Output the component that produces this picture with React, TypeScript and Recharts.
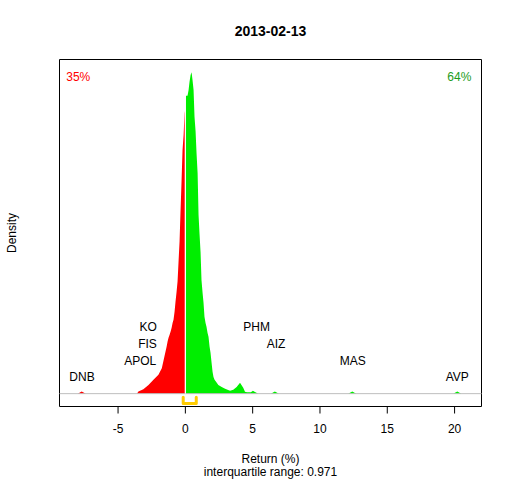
import React from 'react';
import { ComposedChart, Area, XAxis, YAxis, Scatter, ReferenceLine, ReferenceArea } from 'recharts';

// Return (%) and density (scaled so the peak is 100) for the negative part
const redReturns = [-8.0, -7.7, -7.4, -3.6, -3.49, -3.12, -2.74, -2.37, -2.0, -1.75, -1.56, -1.39, -1.32, -1.25, -1.17, -1.1, -1.02, -0.95, -0.88, -0.8, -0.73, -0.65, -0.58, -0.5, -0.43, -0.36, -0.28, -0.21, -0.13, -0.06, -0.04];
const redDensity = [0, 0.7, 0, 0, 0.65, 1.4, 2.7, 4.3, 5.9, 7.9, 11.5, 14.7, 16.2, 17.4, 18.3, 19.3, 20.5, 22.0, 23.0, 25.6, 28.7, 31.8, 34.9, 41.6, 47.4, 56.7, 66.5, 75.8, 80.6, 87.3, 88.0];

// positive part
const greenReturns = [0.04, 0.16, 0.24, 0.31, 0.39, 0.46, 0.53, 0.61, 0.68, 0.76, 0.83, 0.91, 0.98, 1.05, 1.13, 1.2, 1.28, 1.35, 1.42, 1.5, 1.57, 1.65, 1.72, 1.8, 1.87, 1.94, 2.02, 2.09, 2.17, 2.28, 2.45, 2.7, 2.95, 3.32, 3.56, 3.81, 4.06, 4.3, 4.43, 4.58, 4.87, 5.02, 5.17, 5.32, 5.4, 6.35, 6.65, 6.95, 12.1, 12.4, 12.7, 19.9, 20.2, 20.5];
const greenDensity = [92.7, 92.7, 94.5, 97.1, 99.2, 100, 97.7, 94.5, 86.2, 81.6, 74.9, 68.7, 55.6, 49.9, 44.0, 35.3, 31.3, 28.3, 23.9, 22.0, 20.8, 18.9, 17.7, 14.6, 12.7, 9.9, 6.8, 5.2, 4.3, 3.7, 2.7, 2.1, 1.5, 0.9, 1.2, 2.1, 3.4, 1.8, 0.6, 0.4, 0.4, 0.9, 0.5, 0.2, 0, 0, 0.7, 0, 0, 0.7, 0, 0, 0.7, 0];

const xTicks = [-5, 0, 5, 10, 15, 20];
const xDomain = [-9.35, 22.0];
const yDomain = [-4, 104];

// interquartile range bracket
const q1 = -0.16;
const q3 = 0.81;
const iqrLabel = 'interquartile range: 0.971';

// stock labels
const labelNames = ['KO', 'FIS', 'APOL', 'DNB', 'PHM', 'AIZ', 'MAS', 'AVP'];
const labelReturns = [-2.12, -2.12, -2.17, -7.68, 4.3, 6.04, 12.44, 20.2];
const labelLevels = [20.6, 15.4, 10.3, 5.1, 20.6, 15.4, 10.3, 5.1];
const labelAnchors = ['end', 'end', 'end', 'middle', 'start', 'start', 'middle', 'middle'];

const pctNeg = '35%';
const pctPos = '64%';
const title = '2013-02-13';

const RED = '#FF0000';
const GREEN = '#00EE00';
const DARKGREEN = '#1C9C1C';
const GOLD = '#FFCC00';
const FONT = '"Liberation Sans", Arial, sans-serif';

const table = [
  ...redReturns.map((x, i) => ({ x, red: redDensity[i] })),
  ...greenReturns.map((x, i) => ({ x, green: greenDensity[i] })),
].sort((a, b) => a.x - b.x);

const iqrPoints = [
  { x: q1, y: -1.1 },
  { x: q1, y: -3.1 },
  { x: q3, y: -3.1 },
  { x: q3, y: -1.1 },
];

const textPoints = [
  ...labelNames.map((name, i) => ({ x: labelReturns[i], y: labelLevels[i], name, anchor: labelAnchors[i], color: '#000' })),
  { x: -8.85, y: 98.4, name: pctNeg, anchor: 'start', color: RED },
  { x: 21.25, y: 98.4, name: pctPos, anchor: 'end', color: DARKGREEN },
];

const TextShape = (props: any) => {
  const { cx, cy, payload } = props;
  if (cx == null || cy == null) return <g />;
  return (
    <text x={cx} y={cy} textAnchor={payload.anchor} dominantBaseline="central" fontSize={12} fontFamily={FONT} fill={payload.color}>
      {payload.name}
    </text>
  );
};

export default function App() {
  return (
    <div style={{ position: 'absolute', left: 0, top: 0, width: 512, height: 480, background: '#fff', fontFamily: FONT }}>
      <ComposedChart width={512} height={480} data={table} margin={{ top: 59.5, right: 30.5, left: 59.5, bottom: 0 }}>
        <XAxis
          dataKey="x"
          type="number"
          domain={xDomain}
          ticks={xTicks}
          allowDataOverflow
          axisLine={false}
          tickSize={7}
          tickMargin={11}
          height={73.5}
          tickLine={{ stroke: '#000' }}
          tick={{ fontSize: 12, fill: '#000', fontFamily: FONT }}
        />
        <YAxis hide type="number" domain={yDomain} allowDataOverflow />
        <ReferenceLine y={0} stroke="#BEBEBE" strokeWidth={1} />
        <Area dataKey="red" type="linear" stroke="none" fill={RED} fillOpacity={1} isAnimationActive={false} connectNulls={false} />
        <Area dataKey="green" type="linear" stroke="none" fill={GREEN} fillOpacity={1} isAnimationActive={false} connectNulls={false} />
        <ReferenceLine segment={[{ x: 0, y: 0 }, { x: 0, y: 100 }]} stroke="#fff" strokeWidth={1} />
        <Scatter
          data={iqrPoints}
          dataKey="y"
          isAnimationActive={false}
          line={{ stroke: GOLD, strokeWidth: 3, strokeLinecap: 'round', strokeLinejoin: 'round' }}
          shape={() => <g />}
        />
        <Scatter data={textPoints} dataKey="y" isAnimationActive={false} shape={TextShape} />
        <ReferenceArea x1={xDomain[0]} x2={xDomain[1]} y1={yDomain[0]} y2={yDomain[1]} fill="none" stroke="#000" strokeWidth={1} fillOpacity={0} />
      </ComposedChart>
      <svg width={512} height={480} style={{ position: 'absolute', left: 0, top: 0, pointerEvents: 'none' }}>
        <text x={270.5} y={31} textAnchor="middle" dominantBaseline="central" fontSize={14} fontWeight="bold" fontFamily={FONT} fill="#000">{title}</text>
        <text x={12} y={233} textAnchor="middle" dominantBaseline="central" fontSize={12} fontFamily={FONT} fill="#000" transform="rotate(-90 12 233)">Density</text>
        <text x={270.5} y={458.5} textAnchor="middle" dominantBaseline="central" fontSize={12} fontFamily={FONT} fill="#000">Return (%)</text>
        <text x={270.5} y={471.5} textAnchor="middle" dominantBaseline="central" fontSize={12} fontFamily={FONT} fill="#000">{iqrLabel}</text>
      </svg>
    </div>
  );
}
